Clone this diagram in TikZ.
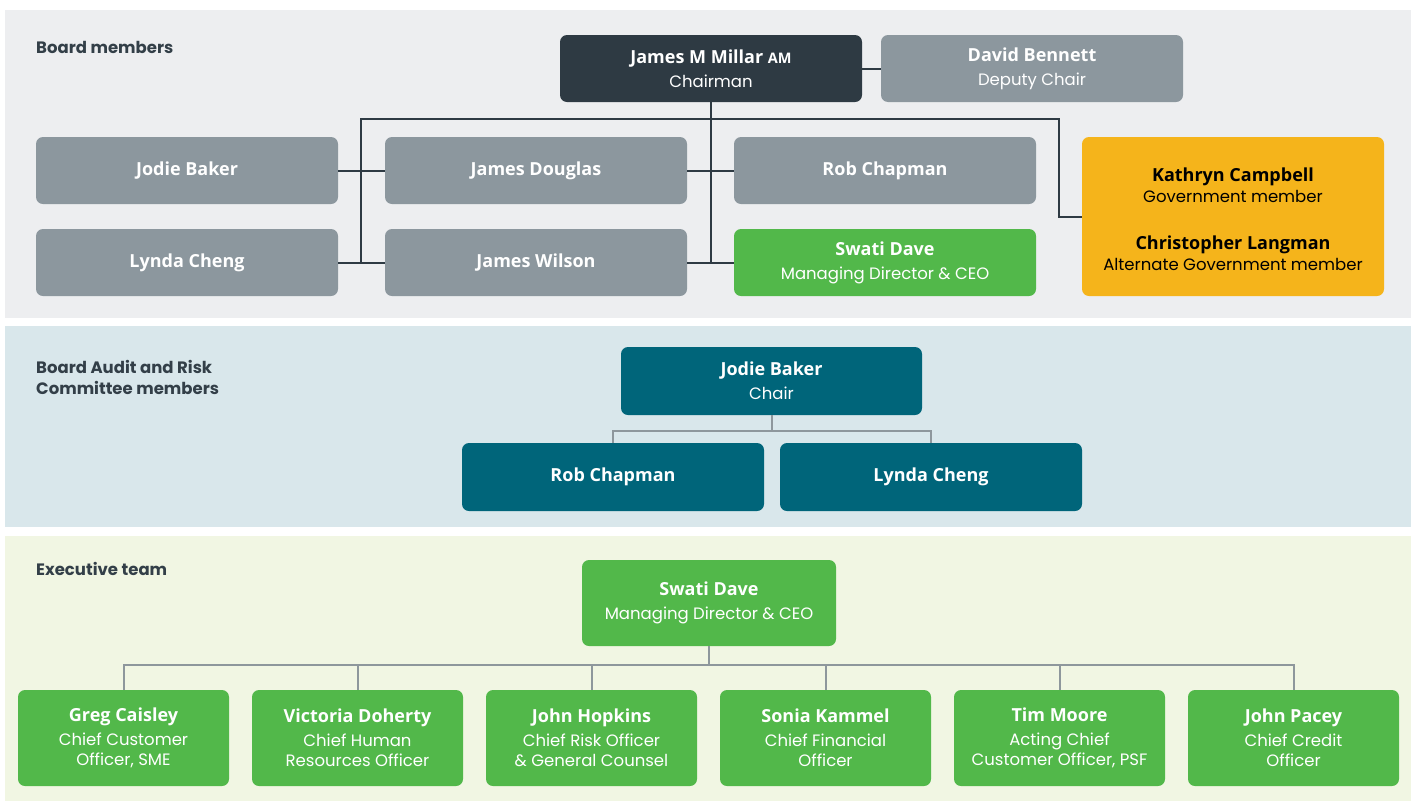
\documentclass[tikz,border=0pt]{standalone}
\usepackage{fontspec}
\setmainfont{Open Sans}
\newfontfamily\rolefont{Poppins}
\usetikzlibrary{calc}

\definecolor{panelA}{HTML}{EDEEF0}
\definecolor{panelB}{HTML}{D9E7EB}
\definecolor{panelC}{HTML}{F1F6E3}
\definecolor{boxgray}{HTML}{8C979E}
\definecolor{boxdark}{HTML}{2E3A43}
\definecolor{boxgreen}{HTML}{52B84A}
\definecolor{boxteal}{HTML}{00657A}
\definecolor{boxgold}{HTML}{F5B41B}
\definecolor{headtext}{HTML}{333F48}
\definecolor{linegray}{HTML}{8E979C}

\newcommand{\role}[1]{{\rolefont\mdseries\fontsize{16.5}{20}\selectfont #1}}

\begin{document}
\begin{tikzpicture}[x=1pt,y=-1pt,
    box/.style={rounded corners=7pt, minimum width=302pt, minimum height=67pt,
        align=center, inner sep=0pt, text=white,
        font=\fontsize{18}{24}\selectfont\bfseries},
    graybox/.style={box, fill=boxgray},
    execbox/.style={box, fill=boxgreen, minimum width=211pt, minimum height=96pt,
        font=\fontsize{18}{20}\selectfont\bfseries},
    heading/.style={anchor=west, align=left, text=headtext, inner sep=0pt,
        font=\rolefont\bfseries\fontsize{16.5}{21}\selectfont},
    boardline/.style={draw=boxdark, line width=2pt},
    teamline/.style={draw=linegray, line width=2pt}]
    \useasboundingbox[fill=white] (0,0) rectangle (1416,801);

    % panels
    \fill[panelA] (5,10) rectangle (1411,318);
    \fill[panelB] (5,326) rectangle (1411,527);
    \fill[panelC] (5,536) rectangle (1411,801);

    \node[heading] (hboard) at (36,47) {Board members};
    \node[heading] (haudit) at (36,377) {Board Audit and Risk\\Committee members};
    \node[heading] (hexec) at (36,569) {Executive team};

    % board members
    \node[box, fill=boxdark] (chair) at (711,68.5)
        {James M Millar {\fontsize{14.5}{24}\selectfont AM}\\\role{Chairman}};
    \node[graybox] (deputy) at (1032,68.5) {David Bennett\\\role{Deputy Chair}};
    \node[graybox] (jbaker) at (187,170.5) {Jodie Baker};
    \node[graybox] (lcheng) at (187,262.5) {Lynda Cheng};
    \node[graybox] (jdouglas) at (536,170.5) {James Douglas};
    \node[graybox] (jwilson) at (536,262.5) {James Wilson};
    \node[graybox] (rchapman) at (885,170.5) {Rob Chapman};
    \node[box, fill=boxgreen] (sdave) at (885,262.5)
        {Swati Dave\\\role{Managing Director \& CEO}};
    \node[box, fill=boxgold, minimum height=159pt, text=black] (gov) at (1233,216.5)
        {\rule{0pt}{19pt}Kathryn Campbell\\[-3pt]\role{Government member}\\[23pt]
         Christopher Langman\\[-3pt]\role{Alternate Government member}};

    \coordinate (ltop) at (361,119);
    \coordinate (rtop) at (1059,119);
    \draw[boardline] (chair.east) -- (deputy.west);
    \draw[boardline] (chair.south) -- (chair.south |- sdave.west);
    \draw[boardline] (jbaker.east) -- (jdouglas.west);
    \draw[boardline] (lcheng.east) -- (jwilson.west);
    \draw[boardline] (jdouglas.east) -- (rchapman.west);
    \draw[boardline] (jwilson.east) -- (sdave.west);
    \draw[boardline] (ltop |- lcheng.east) -- (ltop) -- (rtop) -- (rtop |- gov.west) -- (gov.west);

    % audit and risk committee
    \node[box, fill=boxteal, minimum width=301pt, minimum height=68pt] (achair) at (771.5,381)
        {Jodie Baker\\\role{Chair}};
    \node[box, fill=boxteal, minimum height=68pt] (arob) at (613,477) {Rob Chapman};
    \node[box, fill=boxteal, minimum height=68pt] (alynda) at (931,477) {Lynda Cheng};
    \draw[teamline] (achair.south) -- ++(0,16) coordinate (abus);
    \draw[teamline] (arob.north) |- (abus) -| (alynda.north);

    % executive team
    \node[box, fill=boxgreen, minimum width=254pt, minimum height=86pt] (ceo) at (709,603)
        {Swati Dave\\\role{Managing Director \& CEO}};
    \node[execbox] (ecaisley) at (123.5,738) {Greg Caisley\\[4pt]\role{Chief Customer}\\\role{Officer, SME}};
    \node[execbox] (edoherty) at (357.5,738) {Victoria Doherty\\[4pt]\role{Chief Human}\\\role{Resources Officer}};
    \node[execbox] (ehopkins) at (591.5,738) {John Hopkins\\[4pt]\role{Chief Risk Officer}\\\role{\& General Counsel}};
    \node[execbox] (ekammel) at (825.5,738) {Sonia Kammel\\[4pt]\role{Chief Financial}\\\role{Officer}};
    \node[execbox] (emoore) at (1059.5,738) {Tim Moore\\[4pt]\role{Acting Chief}\\\role{Customer Officer, PSF}};
    \node[execbox] (epacey) at (1293.5,738) {John Pacey\\[4pt]\role{Chief Credit}\\\role{Officer}};

    \draw[teamline] (ceo.south) -- ++(0,19) coordinate (ebus);
    \draw[teamline] (ecaisley.north) |- (ebus) -| (epacey.north);
    \foreach \e in {edoherty, ehopkins, ekammel, emoore}
        \draw[teamline] (\e.north) -- (\e.north |- ebus);
\end{tikzpicture}
\end{document}
